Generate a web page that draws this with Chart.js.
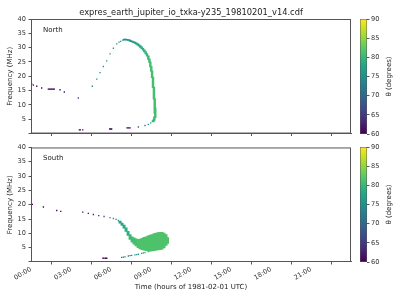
<!DOCTYPE html>
<html>
<head>
<meta charset="utf-8">
<script src="https://cdn.jsdelivr.net/npm/chart.js@4.4.1/dist/chart.umd.min.js"></script>
<style>
  body { margin: 0; background: #fff; width: 400px; height: 300px; position: relative; overflow: hidden; }
  canvas { position: absolute; }
</style>
</head>
<body>
<canvas id="north" width="356" height="140" style="left:0;top:0"></canvas>
<canvas id="northBar" width="44" height="140" style="left:356px;top:0"></canvas>
<canvas id="south" width="356" height="159" style="left:0;top:141px"></canvas>
<canvas id="southBar" width="44" height="159" style="left:356px;top:141px"></canvas>
<script>
const fileTitle = 'expres_earth_jupiter_io_txka-y235_19810201_v14.cdf';
const timeTitle = 'Time (hours of 1981-02-01 UTC)';
const hourTicks = [0, 3, 6, 9, 12, 15, 18, 21];
const hourLabels = ['00:00', '03:00', '06:00', '09:00', '12:00', '15:00', '18:00', '21:00'];
const thetaTicks = [60, 65, 70, 75, 80, 85, 90];

// North: isolated dots (hours, MHz, theta deg)
const northDotTime = [0.05, 0.18, 0.43, 0.8, 1.3, 1.38, 1.45, 1.53, 1.6, 1.68, 1.75, 2.18, 2.5, 3.55,
  3.63, 3.7, 3.88, 5.9, 5.98, 6.05, 7.2, 7.28, 7.35, 7.43, 8.05, 8.55, 8.8, 8.98, 9.1,
  4.6, 4.93, 5.18, 5.43, 5.68, 5.93, 6.18, 6.43, 6.6, 6.73, 6.88];
const northDotFreq = [17.3, 16.9, 16.5, 15.9, 15.5, 15.5, 15.5, 15.5, 15.5, 15.5, 15.5, 15.3, 14.5, 12.4,
  1.3, 1.3, 1.3, 1.6, 1.6, 1.6, 2.0, 2.0, 2.0, 2.0, 2.3, 2.8, 3.2, 3.7, 4.3,
  16.5, 19.0, 21.3, 23.4, 25.4, 27.8, 29.8, 31.3, 31.9, 32.2, 32.6];
const northDotTheta = [60.5, 60.5, 60.5, 60.5, 60.5, 60.5, 60.5, 60.5, 60.5, 60.5, 60.5, 61, 61.5, 67,
  60.5, 60.5, 60.5, 60.5, 60.5, 60.5, 61, 61, 61, 61, 70, 73, 75, 77, 79,
  75, 75, 75, 75, 75, 75, 75, 75, 75, 75, 75];

// North: dense emission columns (hours, low/high MHz, theta deg)
const northColTime = [7.0, 7.1, 7.2, 7.3, 7.4, 7.5, 7.6, 7.7, 7.8, 7.9, 8.0, 8.1, 8.2, 8.3, 8.4, 8.5,
  8.6, 8.7, 8.8, 8.88, 8.95, 9.02, 9.08, 9.15, 9.22, 9.28, 9.32, 9.25, 9.18];
const northColLow = [32.6, 32.7, 32.6, 32.5, 32.3, 32.1, 31.9, 31.7, 31.5, 31.2, 30.9, 30.5, 30.1, 29.6, 29.1, 28.5,
  27.8, 27.0, 25.9, 24.8, 23.3, 21.7, 19.5, 16.0, 12.0, 7.0, 5.5, 4.6, 4.1];
const northColHigh = [33.0, 33.0, 32.9, 32.8, 32.7, 32.5, 32.3, 32.1, 31.9, 31.7, 31.4, 31.1, 30.7, 30.3, 29.8, 29.2,
  28.6, 27.9, 27.1, 26.1, 25.0, 23.5, 21.9, 19.7, 16.2, 12.2, 9.0, 5.8, 4.8];
const northColTheta = [75, 75, 75.5, 75.5, 76, 76, 76.5, 76.5, 77, 77, 77.5, 78, 78, 78.5, 79, 79,
  79.5, 80, 80, 80.5, 81, 81, 81, 81, 81, 81, 81, 80.5, 80];

// South: isolated dots
const southDotTime = [0.1, 0.93, 1.93, 2.23, 3.88, 4.3, 4.68, 5.08, 5.48, 5.93, 6.18, 6.38, 6.55,
  5.4, 5.48, 5.6, 5.68,
  6.8, 6.93, 7.05, 7.3, 7.43, 7.55, 7.8, 7.93, 8.05, 8.3, 8.43, 8.55, 8.8, 8.93];
const southDotFreq = [20.1, 19.2, 18.0, 17.7, 17.4, 17.0, 16.6, 16.2, 15.9, 15.5, 15.2, 14.9, 14.5,
  1.3, 1.3, 1.3, 1.3,
  1.6, 1.7, 1.8, 2.1, 2.2, 2.3, 2.5, 2.6, 2.7, 3.0, 3.15, 3.3, 3.6, 3.8];
const southDotTheta = [60, 60, 60.5, 60.5, 61, 61, 62, 64, 67, 73, 74, 75, 76,
  60, 60, 60, 60,
  71, 72, 72.5, 73.5, 74, 75, 76, 76.5, 77, 78, 78.5, 79, 80, 80.5];

// South: dense emission columns
const southColTime = [6.68, 6.83, 6.98, 7.13, 7.28, 7.43, 7.58, 7.73, 7.88, 8.03, 8.18, 8.33, 8.48,
  8.63, 8.78, 8.93, 9.08, 9.23, 9.38, 9.53, 9.68, 9.83, 9.98, 10.13, 10.24];
const southColLow = [13.6, 12.8, 11.8, 10.7, 9.3, 7.9, 6.9, 6.2, 5.6, 5.0, 4.6, 4.3, 4.1,
  4.0, 3.9, 3.9, 3.9, 4.0, 4.1, 4.2, 4.3, 4.5, 4.9, 5.8, 6.5];
const southColHigh = [14.3, 13.6, 12.9, 11.9, 10.7, 9.6, 8.8, 8.4, 8.1, 7.9, 8.0, 8.3, 8.6,
  8.8, 9.1, 9.4, 9.6, 9.9, 10.1, 10.3, 10.4, 10.4, 10.1, 9.6, 8.5];
const southColTheta = [77, 77.5, 78, 78.5, 79, 80, 80.5, 81, 81, 81.5, 81.5, 81.5, 81.5,
  81.5, 81.5, 81.5, 81.5, 81.5, 81.5, 81.5, 81.5, 81.5, 81.5, 81.5, 81.5];

const viridisStops = ['#440154', '#482475', '#414487', '#355f8d', '#2a788e', '#21918c',
  '#22a884', '#44bf70', '#7ad151', '#bddf26', '#fde725'];

function hexToRgb(h) {
  return [parseInt(h.slice(1, 3), 16), parseInt(h.slice(3, 5), 16), parseInt(h.slice(5, 7), 16)];
}

function viridis(theta) {
  if (theta === undefined) theta = 75;
  const t = Math.min(1, Math.max(0, (theta - 60) / 30)) * 10;
  const i = Math.min(9, Math.floor(t));
  const f = t - i;
  const a = hexToRgb(viridisStops[i]);
  const b = hexToRgb(viridisStops[i + 1]);
  const c = a.map((v, k) => Math.round(v + (b[k] - v) * f));
  return `rgb(${c[0]}, ${c[1]}, ${c[2]})`;
}

Chart.defaults.font.family = "'DejaVu Sans'";
Chart.defaults.color = '#333';

const axisColor = '#555';
const tickFont = { size: 6.6 };

// frame round the axes, panel name and file title
const framePlugin = {
  id: 'frame',
  afterDraw(chart, args, opts) {
    const { ctx, chartArea: a } = chart;
    ctx.save();
    ctx.strokeStyle = axisColor;
    ctx.lineWidth = 1;
    ctx.strokeRect(a.left + 0.5, a.top + 0.5, a.width - 1, a.height - 1);
    ctx.fillStyle = '#222';
    ctx.font = "7px 'DejaVu Sans'";
    ctx.textAlign = 'left';
    ctx.textBaseline = 'alphabetic';
    ctx.fillText(opts.label, a.left + 12, a.top + 13);
    if (opts.title) {
      ctx.font = "8.3px 'DejaVu Sans'";
      ctx.textAlign = 'center';
      ctx.fillText(opts.title, (a.left + a.right) / 2, a.top - 4);
    }
    ctx.restore();
  }
};

const cbLabelPlugin = {
  id: 'cbLabel',
  afterDraw(chart) {
    const { ctx, chartArea: a } = chart;
    ctx.save();
    ctx.translate(33, (a.top + a.bottom) / 2);
    ctx.rotate(-Math.PI / 2);
    ctx.fillStyle = '#222';
    ctx.font = "7px 'DejaVu Sans'";
    ctx.textAlign = 'center';
    ctx.textBaseline = 'middle';
    ctx.fillText('θ (degrees)', 0, 0);
    ctx.restore();
  }
};

function drawPanel(id, label, dotTime, dotFreq, dotTheta, colTime, colLow, colHigh, colTheta, thick, bottom) {
  new Chart(document.getElementById(id), {
    type: 'scatter',
    data: {
      datasets: [
        {
          type: 'bar',
          data: colTime.map((t, i) => ({ x: t, y: [colLow[i], colHigh[i]] })),
          backgroundColor: (c) => viridis(colTheta[c.dataIndex]),
          borderWidth: 0,
          barThickness: thick,
          grouped: false,
        },
        {
          type: 'scatter',
          data: dotTime.map((t, i) => ({ x: t, y: dotFreq[i] })),
          pointBackgroundColor: (c) => viridis(dotTheta[c.dataIndex]),
          pointStyle: 'rect',
          pointRadius: 0.95,
          pointBorderWidth: 0,
        },
      ],
    },
    options: {
      responsive: false,
      animation: false,
      devicePixelRatio: 1,
      layout: { padding: { top: bottom ? 6 : 19, right: 5, left: 0, bottom: 0 } },
      plugins: {
        legend: { display: false },
        tooltip: { enabled: false },
        frame: { label: label, title: bottom ? null : fileTitle },
      },
      scales: {
        x: {
          type: 'linear',
          min: 0,
          max: 24,
          offset: false,
          afterBuildTicks: (s) => { s.ticks = hourTicks.map((v) => ({ value: v })); },
          ticks: {
            autoSkip: false,
            minRotation: bottom ? 30 : 0,
            maxRotation: bottom ? 30 : 0,
            padding: 1,
            font: tickFont,
            callback: (v) => {
              const i = hourTicks.indexOf(v);
              return bottom ? hourLabels[i] : '';
            },
          },
          grid: { drawOnChartArea: false, tickLength: 2.5, color: axisColor },
          border: { color: axisColor },
          title: {
            display: bottom,
            text: timeTitle,
            font: { size: 7 },
            color: '#222',
            padding: { top: 0, bottom: 8.8 },
          },
          afterFit: (s) => { s.height = bottom ? 38 : 6; },
        },
        y: {
          type: 'linear',
          min: 0,
          max: 40,
          ticks: {
            stepSize: 5,
            padding: 2.5,
            font: tickFont,
            callback: (v) => (v === 0 ? '' : v),
          },
          grid: { drawOnChartArea: false, tickLength: 2.5, color: axisColor },
          border: { color: axisColor },
          title: {
            display: true,
            text: 'Frequency (MHz)',
            font: { size: 7 },
            color: '#222',
            padding: { top: 6, bottom: 0 },
          },
          afterFit: (s) => { s.width = 31; },
        },
      },
    },
    plugins: [framePlugin],
  });
}

function drawColorbar(id, top, bottom) {
  new Chart(document.getElementById(id), {
    type: 'bar',
    data: {
      labels: [''],
      datasets: [{
        data: [[thetaTicks[0], thetaTicks[thetaTicks.length - 1]]],
        backgroundColor: (c) => {
          const a = c.chart.chartArea;
          if (!a) return viridis(75);
          const g = c.chart.ctx.createLinearGradient(0, a.bottom, 0, a.top);
          viridisStops.forEach((s, i) => g.addColorStop(i / 10, s));
          return g;
        },
        borderColor: axisColor,
        borderWidth: 0.8,
        borderSkipped: false,
        barPercentage: 1,
        categoryPercentage: 1,
      }],
    },
    options: {
      responsive: false,
      animation: false,
      devicePixelRatio: 1,
      layout: { padding: { left: 4, right: 0, top: top, bottom: bottom } },
      plugins: { legend: { display: false }, tooltip: { enabled: false } },
      scales: {
        x: { display: false },
        y: {
          position: 'right',
          min: 60,
          max: 90,
          afterBuildTicks: (s) => { s.ticks = thetaTicks.map((v) => ({ value: v })); },
          ticks: { padding: 1.5, font: tickFont },
          grid: { drawOnChartArea: false, tickLength: 2.5, color: axisColor },
          border: { display: false },
          afterFit: (s) => { s.width = 33; },
        },
      },
    },
    plugins: [cbLabelPlugin],
  });
}

drawPanel('north', 'North', northDotTime, northDotFreq, northDotTheta,
  northColTime, northColLow, northColHigh, northColTheta, 1.8, false);
drawPanel('south', 'South', southDotTime, southDotFreq, southDotTheta,
  southColTime, southColLow, southColHigh, southColTheta, 2.3, true);
drawColorbar('northBar', 19, 6);
drawColorbar('southBar', 6, 38);
</script>
</body>
</html>
